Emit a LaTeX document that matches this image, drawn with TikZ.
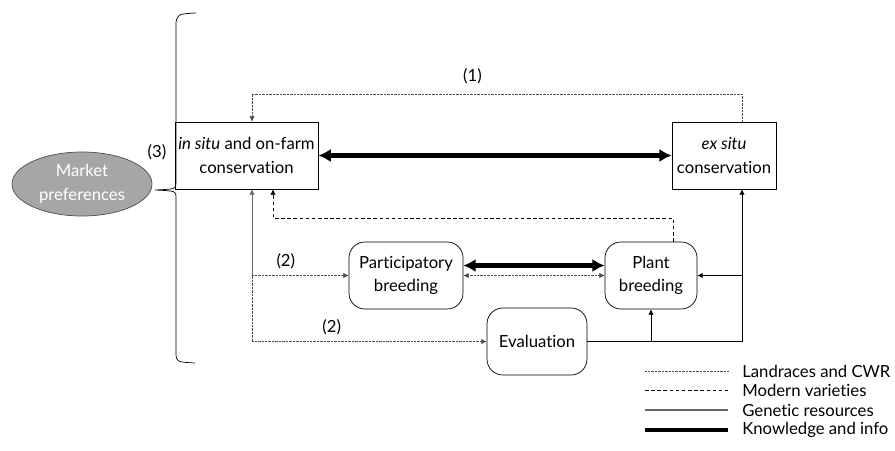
\documentclass[tikz,border=0pt]{standalone}
\usepackage{fontspec}
\setmainfont{Lato}[Ligatures=NoCommon]
\usetikzlibrary{arrows.meta,shapes.geometric,calc}

\begin{document}
\begin{tikzpicture}[x=0.02cm,y=-0.02cm,font=\fontsize{9.5}{13.5}\selectfont,
  box/.style={draw,thin,minimum height=1.34cm,align=center,inner sep=2pt},
  rbox/.style={box,rounded corners=9pt},
  landrace/.style={black!70,dash pattern=on 0.4pt off 0.4pt,thin},
  modern/.style={dash pattern=on 2pt off 1.5pt,thin},
  genetic/.style={thin},
  know/.style={line width=2.7pt},
  tip/.style={-{Latex[length=3pt,width=3pt]}},
  bigtip/.style={{Latex[length=7pt,width=7.5pt]}-{Latex[length=7pt,width=7.5pt]}},
  legend/.style={anchor=west,inner sep=0pt}]
\useasboundingbox (0,0) rectangle (895,450);

% boxes
\node[box,minimum width=2.62cm] (insitu) at (246.5,155.5) {\textit{in situ} and on-farm\\conservation};
\node[box,minimum width=2.08cm] (exsitu) at (724,155.5) {\textit{ex situ}\\conservation};
\node[rbox,minimum width=2.28cm] (partic) at (406,275.5) {Participatory\\breeding};
\node[rbox,minimum width=1.84cm] (plant) at (651,275.5) {Plant\\breeding};
\node[rbox,minimum width=2cm] (eval) at (537,341.5) {Evaluation};
\node[ellipse,draw=black!70,fill=black!35,text=white,minimum width=2.8cm,minimum height=1.28cm,
  align=center,inner sep=0pt] (market) at (82,184) {Market\\preferences};
\node (lab3) at (157,152) {(3)};

% helper lines
\coordinate (l) at (252,0);
\coordinate (r) at (742,0);
\coordinate (top) at (0,94);
\coordinate (dash) at (673,218);
\coordinate (dl) at (273,0);

% brace
\coordinate (bracetip) at (155,190);
\draw (196,13) .. controls (178,14) .. (176,22) -- (176,183)
  .. controls (176,189) .. (bracetip) .. controls (176,191) .. (176,197)
  -- (176,355) .. controls (177,362) .. (195,363);

% (1)
\draw[landrace,tip] (r |- exsitu.north) -- (r |- top) -- node[above,black,pos=0.55,yshift=2pt] {(1)} (l |- top) -- (l |- insitu.north);

% knowledge
\draw[know,bigtip] (insitu) -- (exsitu);
\draw[know,bigtip] ($(partic.east)+(0,-10)$) -- ($(plant.west)+(0,-10)$);

% modern varieties
\draw[modern,tip] (plant.north -| dash) -- (dash) -- (dl |- dash) -- (dl |- insitu.south);

% landraces
\draw[genetic,black!60,tip] (l |- partic.west) -- (l |- insitu.south);
\draw[landrace,tip] (l |- partic.west) -- node[above,black,pos=0.35] {(2)} (partic.west);
\draw[landrace,tip] (l |- partic.west) |- node[above,black,pos=0.67] {(2)} (eval.west);
\draw[landrace,{Latex[length=3pt,width=3pt]}-{Latex[length=3pt,width=3pt]}] (partic.east) -- (plant.west);

% genetic resources
\draw[genetic,tip] (eval.east) -| (r |- exsitu.south);
\draw[genetic,tip] (r |- plant.east) -- (plant.east);
\draw[genetic,tip] (plant.south |- eval.east) -- (plant.south);

% legend
\node[legend] (leg1) at (742,371) {Landraces and CWR};
\node[legend] (leg2) at (742,390) {Modern varieties};
\node[legend] (leg3) at (742,410) {Genetic resources};
\node[legend] (leg4) at (742,430) {Knowledge and info};
\draw[landrace] (645,371) -- ($(leg1.west)+(-14,0)$);
\draw[modern] (645,390) -- ($(leg2.west)+(-14,0)$);
\draw[genetic,black!60,semithick] (645,410) -- ($(leg3.west)+(-14,0)$);
\draw[know] (645,430) -- ($(leg4.west)+(-14,0)$);
\end{tikzpicture}
\end{document}
